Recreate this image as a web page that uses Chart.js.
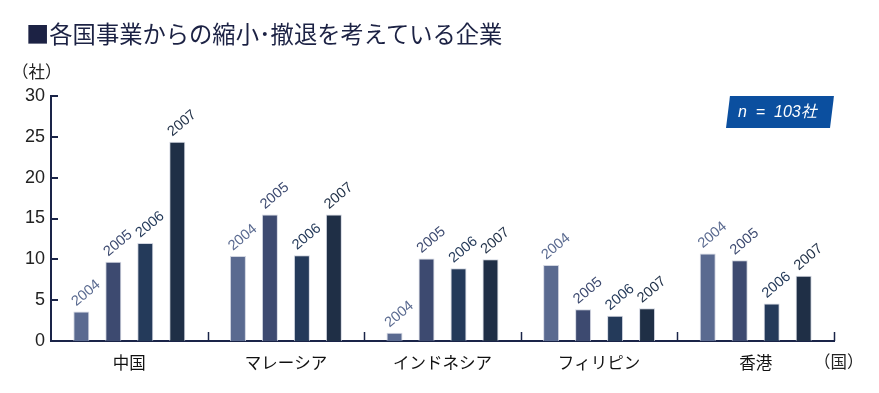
<!DOCTYPE html>
<html><head><meta charset="utf-8">
<script src="https://cdn.jsdelivr.net/npm/chart.js@4.4.1/dist/chart.umd.min.js"></script>
<style>
html,body{margin:0;padding:0;background:#fff;}
#wrap{position:relative;width:879px;height:393px;overflow:hidden;}
canvas{position:absolute;left:0;top:0;}
.t{position:absolute;white-space:nowrap;font-family:'Noto Sans CJK JP','Noto Sans',sans-serif;line-height:1;}
#title{left:26px;top:22px;font-size:23.3px;color:#1c2244;}
#unitY{left:12px;top:63px;font-size:16.5px;color:#222;}
#unitX{left:814px;top:353px;font-size:16.5px;color:#222;}
#nbox{left:728px;top:96px;width:104px;height:32px;background:#0b4f9f;transform:skewX(-7deg);}
#ntext{left:738px;top:104px;font-size:16px;color:#fff;font-style:italic;font-family:'Liberation Sans','Noto Sans CJK JP',sans-serif;}
</style></head>
<body><div id="wrap">
<canvas id="c" width="879" height="393"></canvas>
<div class="t" id="title">■各国事業からの縮小･撤退を考えている企業</div>
<div class="t" id="unitY">（社）</div>
<div class="t" id="unitX">（国）</div>
<div class="t" id="nbox"></div>
<div class="t" id="ntext">n &nbsp;= &nbsp;103社</div>
</div>
<script>
const categories = ['中国','マレーシア','インドネシア','フィリピン','香港'];
const years = ['2004','2005','2006','2007'];
const v2004 = [3.6, 10.4, 1.0, 9.3, 10.7];
const v2005 = [9.7, 15.5, 10.1, 3.9, 9.9];
const v2006 = [12.0, 10.5, 8.9, 3.1, 4.6];
const v2007 = [24.4, 15.5, 10.0, 4.0, 8.0];
const yTicks = [0,5,10,15,20,25,30];

const colors = ['#5a6a90','#3d4a70','#243a5a','#1f2f46'];
const labelColors = ['#5a6a90','#3d4a70','#243a5a','#1f2f46'];
const axisColor = '#1a2448';
const series = [v2004, v2005, v2006, v2007];

const decor = {
  id:'decor',
  afterDatasetsDraw(chart){
    const ctx = chart.ctx;
    const x = chart.scales.x, y = chart.scales.y;
    ctx.save();
    ctx.strokeStyle = axisColor; ctx.lineWidth = 2;
    yTicks.forEach(v=>{
      const py = Math.round(y.getPixelForValue(v));
      ctx.beginPath(); ctx.moveTo(x.left, py); ctx.lineTo(x.left+7, py); ctx.stroke();
    });
    ctx.lineWidth = 1.5;
    const n = categories.length;
    const w = (x.right - x.left)/n;
    for(let i=1;i<=n;i++){
      const px = Math.round(x.left + i*w)+0.5;
      ctx.beginPath(); ctx.moveTo(px, y.bottom); ctx.lineTo(px, y.bottom-9); ctx.stroke();
    }
    ctx.font = '14.5px "Liberation Sans Narrow","Liberation Sans",sans-serif';
    ctx.textAlign = 'left'; ctx.textBaseline = 'alphabetic';
    chart.data.datasets.forEach((ds,di)=>{
      const meta = chart.getDatasetMeta(di);
      meta.data.forEach(bar=>{
        const bx = bar.x - bar.width/2 + 3;
        const by = bar.y - 5;
        ctx.save();
        ctx.translate(bx, by);
        ctx.rotate(-40*Math.PI/180);
        ctx.fillStyle = labelColors[di];
        ctx.fillText(ds.label, 0, 0);
        ctx.restore();
      });
    });
    ctx.restore();
  }
};

new Chart(document.getElementById('c'), {
  type:'bar',
  data:{
    labels: categories,
    datasets: years.map((yr,i)=>({
      label: yr, data: series[i], backgroundColor: colors[i],
      borderColor:'rgba(205,210,222,0.9)', borderWidth:{top:1,left:1,right:1,bottom:0},
      categoryPercentage:0.817, barPercentage:0.5
    }))
  },
  options:{
    responsive:false, animation:false, devicePixelRatio:1,
    layout:{padding:{top:96,right:45,left:0,bottom:0}},
    plugins:{legend:{display:false}, tooltip:{enabled:false}},
    scales:{
      x:{
        grid:{display:false},
        border:{display:true,color:axisColor,width:2},
        ticks:{color:'#111',font:{family:'"Noto Sans CJK JP",sans-serif',size:16.5},padding:4,maxRotation:0},
        afterFit(s){ s.height = 52; }
      },
      y:{
        min:0,max:30,
        grid:{display:false,drawTicks:false},
        border:{display:true,color:axisColor,width:2},
        ticks:{stepSize:5,color:'#222',padding:6,font:{family:'"Liberation Sans Narrow","Liberation Sans",sans-serif',size:18}},
        afterFit(s){ s.width = 51; }
      }
    }
  },
  plugins:[decor]
});
</script>
</body></html>
